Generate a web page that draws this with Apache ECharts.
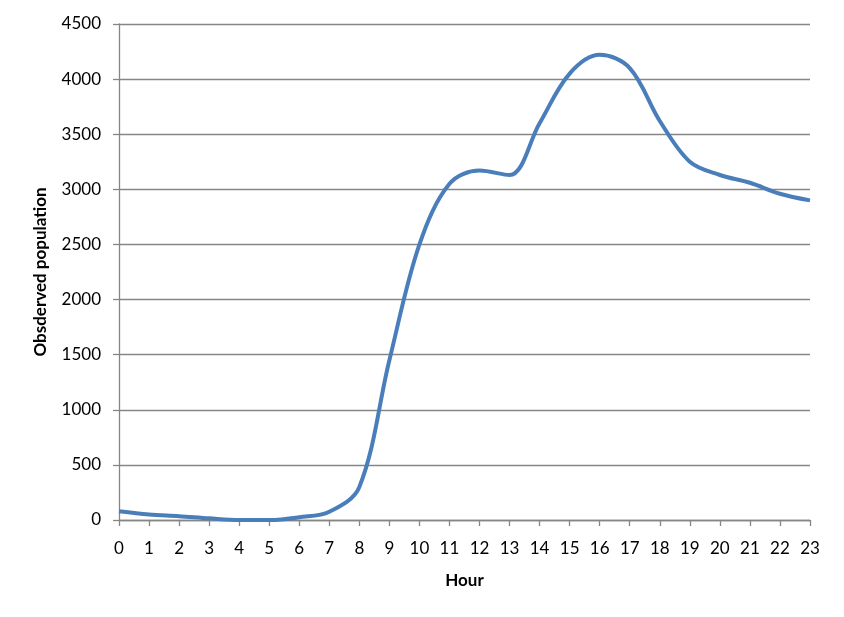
<!DOCTYPE html>
<html>
<head>
<meta charset="utf-8">
<script src="https://cdn.jsdelivr.net/npm/echarts@6/dist/echarts.min.js"></script>
<style>html,body{margin:0;padding:0;background:#fff}#c{width:844px;height:617px}</style>
</head>
<body>
<div id="c"></div>
<script>
var hours = ['0','1','2','3','4','5','6','7','8','9','10','11','12','13','14','15','16','17','18','19','20','21','22','23'];
var population = [80, 50, 35, 15, 0, 0, 25, 75, 300, 1450, 2500, 3050, 3170, 3130, 3600, 4050, 4220, 4100, 3620, 3250, 3130, 3060, 2960, 2900];
var yTicks = {min: 0, max: 4500, interval: 500};

var font = 'Lato, "Open Sans", sans-serif';
var chart = echarts.init(document.getElementById('c'), null, {renderer: 'canvas'});
chart.setOption({
  animation: false,
  backgroundColor: '#fff',
  grid: {left: 119, right: 34, top: 24, bottom: 97, containLabel: false},
  xAxis: {
    type: 'category',
    data: hours,
    boundaryGap: false,
    name: 'Hour',
    nameLocation: 'middle',
    nameGap: 52,
    nameTextStyle: {fontFamily: font, fontSize: 17, fontWeight: 'bold', color: '#000'},
    axisLine: {show: true, lineStyle: {color: '#868686', width: 1.3}},
    axisTick: {show: true, length: 6, inside: false, alignWithLabel: true, lineStyle: {color: '#868686', width: 1.3}},
    axisLabel: {fontFamily: font, fontSize: 17, color: '#000', margin: 20, interval: 0},
    splitLine: {show: false}
  },
  yAxis: {
    type: 'value',
    min: yTicks.min, max: yTicks.max, interval: yTicks.interval,
    name: 'Obsderved population',
    nameLocation: 'middle',
    nameGap: 70,
    nameRotate: 90,
    nameTextStyle: {fontFamily: font, fontSize: 17, fontWeight: 'bold', color: '#000'},
    axisLine: {show: true, lineStyle: {color: '#868686', width: 1.3}},
    axisTick: {show: true, length: 6, lineStyle: {color: '#868686', width: 1.3}},
    axisLabel: {fontFamily: font, fontSize: 17, color: '#000', margin: 18, formatter: function (v) { return String(v); }},
    splitLine: {show: true, lineStyle: {color: '#868686', width: 1.3}}
  },
  series: [{
    type: 'line',
    data: population,
    smooth: 0.35,
    symbol: 'none',
    lineStyle: {color: '#4a7ebb', width: 4},
    itemStyle: {color: '#4a7ebb'}
  }]
});
</script>
</body>
</html>
